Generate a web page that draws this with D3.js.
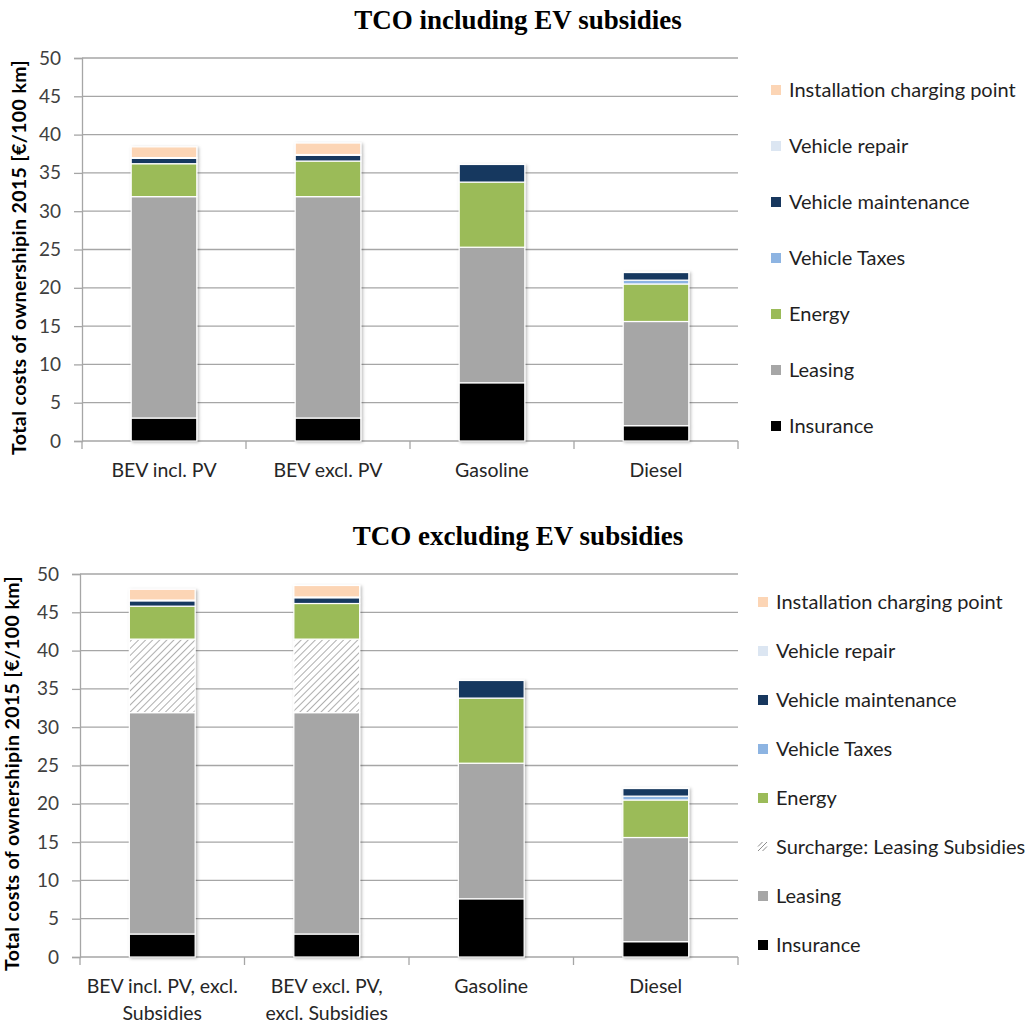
<!DOCTYPE html>
<html><head><meta charset="utf-8">
<script src="https://cdn.jsdelivr.net/npm/d3@7"></script>
<style>
body{margin:0;background:#fff;}
svg{display:block;}
</style></head>
<body>
<script>
// ---- data ----
const categoriesTop = ["BEV incl. PV", "BEV excl. PV", "Gasoline", "Diesel"];
const categoriesBottom = [["BEV incl. PV, excl.", "Subsidies"], ["BEV excl. PV,", "excl. Subsidies"], ["Gasoline"], ["Diesel"]];
const insurance    = [3.0, 3.0, 7.6, 2.0];
const leasing      = [28.9, 28.9, 17.7, 13.6];
const surcharge    = [9.6, 9.6, 0, 0];      // only in "excluding subsidies" chart
const energy       = [4.3, 4.65, 8.5, 4.9];
const taxes        = [0, 0, 0, 0.5];
const maintenance  = [0.7, 0.75, 2.3, 1.0];
const repair       = [0.1, 0.1, 0, 0.05];
const installation = [1.4, 1.5, 0, 0];
const yTicks = [0, 5, 10, 15, 20, 25, 30, 35, 40, 45, 50];
const titles = ["TCO including EV subsidies", "TCO excluding EV subsidies"];
const yLabel = "Total costs of ownershipin 2015  [€/100 km]";

const seriesTop = [
  {name: "Insurance", values: insurance, color: "#000000"},
  {name: "Leasing", values: leasing, color: "#a6a6a6"},
  {name: "Energy", values: energy, color: "#9bbb59"},
  {name: "Vehicle Taxes", values: taxes, color: "#8db4e2"},
  {name: "Vehicle maintenance", values: maintenance, color: "#17375e"},
  {name: "Vehicle repair", values: repair, color: "#dce6f2"},
  {name: "Installation charging point", values: installation, color: "#fcd5b5"}
];
const seriesBottom = [
  seriesTop[0], seriesTop[1],
  {name: "Surcharge: Leasing Subsidies", values: surcharge, color: "url(#hatch)", hatch: true},
  ...seriesTop.slice(2)
];

const W = 1036, H = 1025;
const svg = d3.select("body").append("svg").attr("width", W).attr("height", H);
const defs = svg.append("defs");
const pat = defs.append("pattern").attr("id", "hatch").attr("patternUnits", "userSpaceOnUse")
  .attr("width", 5).attr("height", 5).attr("patternTransform", "rotate(45)");
pat.append("rect").attr("width", 5).attr("height", 5).attr("fill", "#fff");
pat.append("line").attr("x1", 0).attr("y1", 0).attr("x2", 0).attr("y2", 5)
  .attr("stroke", "#8c8c8c").attr("stroke-width", 1.4);
const flt = defs.append("filter").attr("id", "shadow").attr("x", "-20%").attr("y", "-20%").attr("width", "140%").attr("height", "140%");
flt.append("feDropShadow").attr("dx", 1.5).attr("dy", 1).attr("stdDeviation", 1.5)
  .attr("flood-color", "#000").attr("flood-opacity", 0.28);

const FONT = "Lato, 'Open Sans', sans-serif";

function drawChart(cfg) {
  const {left, right, top, bottom, series, cats, title, titleY, labelX, legendX, legendY0, legendStep} = cfg;
  const g = svg.append("g");
  const x = d3.scaleBand().domain(d3.range(cats.length)).range([left, right])
    .paddingInner(0.6).paddingOuter(0.3);
  const y = d3.scaleLinear().domain([0, 50]).range([bottom, top]);

  // title
  svg.append("text").attr("x", 518).attr("y", titleY).attr("text-anchor", "middle")
    .attr("font-family", "'Liberation Serif', 'Times New Roman', serif").attr("font-weight", "bold")
    .attr("font-size", 27).attr("fill", "#000").text(title);

  // gridlines
  g.append("g").selectAll("line").data(yTicks.filter(d => d > 0)).join("line")
    .attr("x1", left).attr("x2", right).attr("y1", d => y(d)).attr("y2", d => y(d))
    .attr("stroke", "#a6a6a6").attr("stroke-width", 1.3);

  // y axis
  const ya = g.append("g").attr("transform", `translate(${left},0)`)
    .call(d3.axisLeft(y).tickValues(yTicks).tickSize(8).tickPadding(13));
  ya.select(".domain").attr("stroke", "#a6a6a6").attr("stroke-width", 1.3);
  ya.selectAll(".tick line").attr("stroke", "#a6a6a6").attr("stroke-width", 1.3);
  ya.selectAll(".tick text").attr("font-family", FONT).attr("font-size", 19).attr("fill", "#404040");

  // x axis
  const xa = g.append("g").attr("transform", `translate(0,${bottom})`);
  xa.append("line").attr("x1", left).attr("x2", right).attr("stroke", "#a6a6a6").attr("stroke-width", 1.3);
  const step = x.step();
  const edges = d3.range(cats.length + 1).map(i => left + i * step);
  xa.selectAll("line.t").data(edges).join("line").attr("class", "t")
    .attr("x1", d => d).attr("x2", d => d).attr("y1", 0).attr("y2", 8)
    .attr("stroke", "#a6a6a6").attr("stroke-width", 1.3);
  cats.forEach((c, i) => {
    const lines = Array.isArray(c) ? c : [c];
    const t = xa.append("text").attr("text-anchor", "middle").attr("font-family", FONT)
      .attr("font-size", 19.5).attr("fill", "#262626");
    lines.forEach((ln, j) => t.append("tspan").attr("x", x(i) + x.bandwidth() / 2)
      .attr("y", 36 + j * 27).text(ln));
  });

  // stacked bars
  const stackData = d3.range(cats.length).map(i => {
    const o = {i};
    series.forEach(s => o[s.name] = s.values[i]);
    return o;
  });
  const stacked = d3.stack().keys(series.map(s => s.name))(stackData);
  const bars = g.append("g").attr("filter", "url(#shadow)");
  stacked.forEach((layer, k) => {
    const s = series[k];
    bars.append("g").selectAll("rect").data(layer.filter(d => d[1] - d[0] > 0)).join("rect")
      .attr("x", d => x(d.data.i)).attr("width", x.bandwidth())
      .attr("y", d => y(d[1])).attr("height", d => y(d[0]) - y(d[1]))
      .attr("fill", s.color).attr("stroke", "#fff").attr("stroke-width", 1.2);
  });

  // y label
  svg.append("text").attr("transform", `translate(${labelX},${(top + bottom) / 2 + 8}) rotate(-90)`)
    .attr("text-anchor", "middle").attr("font-family", FONT).attr("font-weight", "bold")
    .attr("font-size", 19.5).attr("letter-spacing", 0.4).attr("fill", "#000").text(yLabel);

  // legend
  const legendOrder = series.slice().reverse();
  const lg = svg.append("g");
  legendOrder.forEach((s, k) => {
    const yy = legendY0 + k * legendStep;
    if (s.hatch) {
      const sw = lg.append("g").attr("transform", `translate(${legendX},${yy - 5})`);
      [[0, 9, 9, 0], [0, 4.5, 4.5, 0], [4.5, 9, 9, 4.5]].forEach(p => sw.append("line")
        .attr("x1", p[0]).attr("y1", p[1]).attr("x2", p[2]).attr("y2", p[3])
        .attr("stroke", "#8c8c8c").attr("stroke-width", 1));
    } else {
      lg.append("rect").attr("x", legendX).attr("y", yy - 5).attr("width", 10).attr("height", 10)
        .attr("fill", s.color);
    }
    lg.append("text").attr("x", legendX + 18).attr("y", yy + 7).attr("font-family", FONT)
      .attr("font-size", 20).attr("fill", "#1f1f1f").text(s.name);
  });
}

drawChart({left: 82, right: 738, top: 58, bottom: 441, series: seriesTop, cats: categoriesTop,
  title: titles[0], titleY: 29, labelX: 26, legendX: 771, legendY0: 90, legendStep: 56});
drawChart({left: 80, right: 738, top: 574, bottom: 957, series: seriesBottom, cats: categoriesBottom,
  title: titles[1], titleY: 545, labelX: 19, legendX: 758, legendY0: 602, legendStep: 49});
</script>
</body></html>
